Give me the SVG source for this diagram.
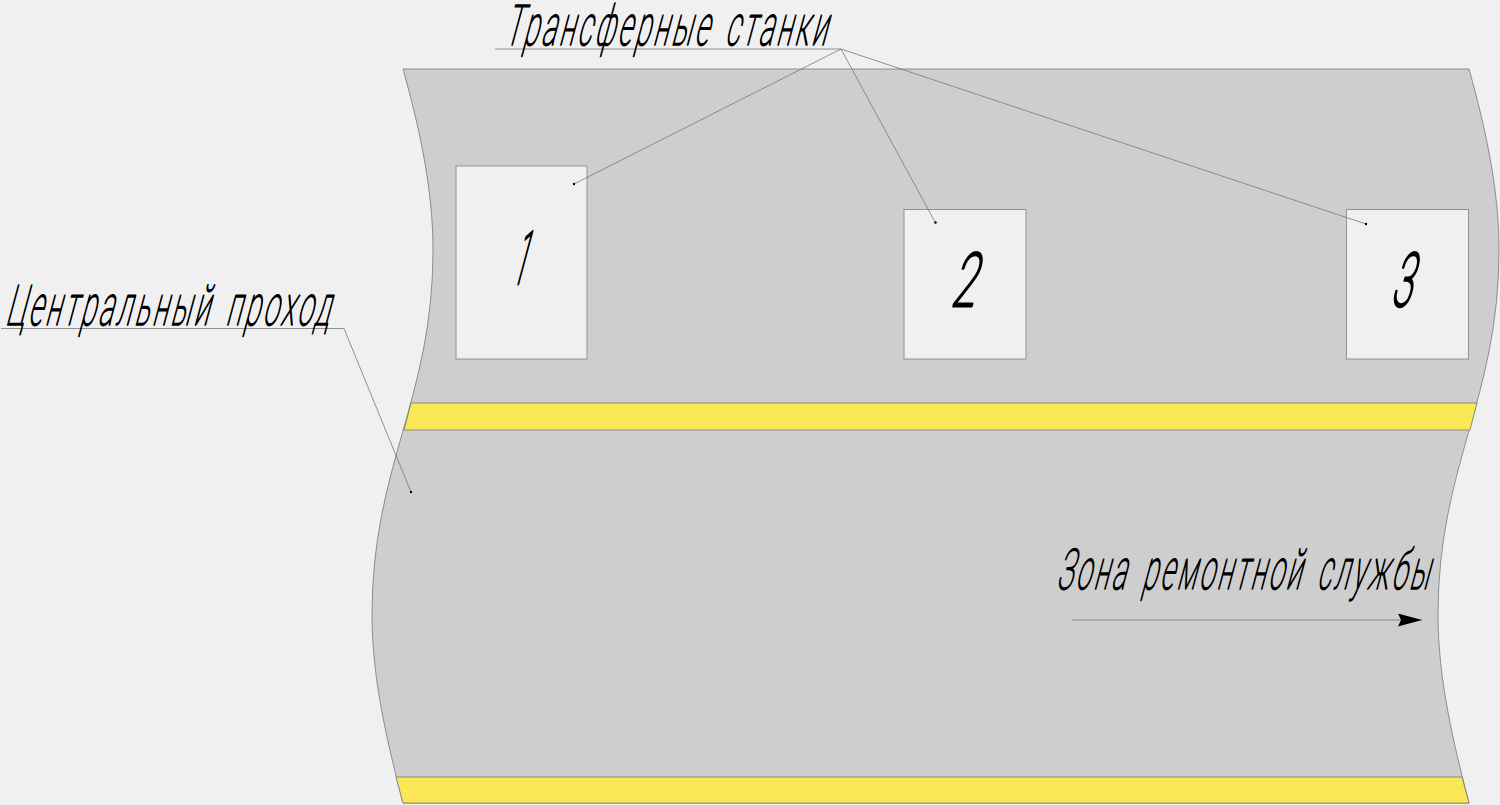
<svg xmlns="http://www.w3.org/2000/svg" width="1500" height="805" viewBox="0 0 1500 805">
<style>
.l{stroke:#777;stroke-width:.8;fill:none}
.z{fill:#cecece;stroke:#777;stroke-width:.8}
.y{fill:#f9e756;stroke:#777;stroke-width:.8}
.m{fill:#f0f0f0;stroke:#8a8a8a;stroke-width:.9}
.d{fill:#000}
.t{font-family:"Roboto","Liberation Sans",sans-serif;font-weight:100;font-size:56px;fill:#000;stroke:#000;stroke-width:1.700;letter-spacing:7px;word-spacing:8px;stroke-linejoin:round}
.n{font-size:74px;letter-spacing:0;stroke-width:3.200}
</style>
<defs><marker id="a" markerUnits="userSpaceOnUse" markerWidth="25" markerHeight="14" refX="24" refY="6.5" orient="auto"><path d="M0 0L24 6.5L0 13L3 6.5Z" fill="#000"/></marker></defs>
<rect width="1500" height="805" fill="#f0f0f0"/>
<g id="floor">
<path class="z" d="M403 69H1469C1486 130 1499 190 1499 250C1499 400 1438 465 1438 615C1438 680 1454 745 1469 803H403C388 745 372 680 372 615C372 465 433 400 433 250C433 190 420 130 403 69Z"/>
</g>
<g id="stripe-1"><path class="y" d="M411 403H1477L1470 430H404Z"/></g>
<g id="stripe-2"><path class="y" d="M396 777H1462L1469 803H403Z"/></g>
<g id="machine-1"><rect class="m" x="456" y="166" width="131" height="193"/>
<text class="t n" transform="translate(511 284) skewX(-15)" textLength="13" lengthAdjust="spacingAndGlyphs">1</text></g>
<g id="machine-2"><rect class="m" x="904" y="209.500" width="122" height="149.500"/>
<text class="t n" transform="translate(950 306) skewX(-15)" textLength="24" lengthAdjust="spacingAndGlyphs">2</text></g>
<g id="machine-3"><rect class="m" x="1346.500" y="209.500" width="122" height="149.500"/>
<text class="t n" transform="translate(1390 306) skewX(-15)" textLength="20" lengthAdjust="spacingAndGlyphs">3</text></g>
<g id="connectors">
<path class="l" d="M495 49H841L574 184M841 49L935 222M841 49L1366 224"/>
<path class="l" d="M1 328.500H344L411 492"/>
<path class="l" d="M1072 620H1422" marker-end="url(#a)"/>
<circle class="d" cx="574" cy="184" r="1.200"/><circle class="d" cx="935.500" cy="222.500" r="1.200"/><circle class="d" cx="1366" cy="224" r="1.200"/><circle class="d" cx="411" cy="492" r="1.200"/>
</g>
<g id="label-machines"><text class="t" transform="translate(504 45) skewX(-15)" textLength="325" lengthAdjust="spacingAndGlyphs">Трансферные станки</text></g>
<g id="label-aisle"><text class="t" transform="translate(5 325) skewX(-15)" textLength="327" lengthAdjust="spacingAndGlyphs">Центральный проход</text></g>
<g id="label-repair"><text class="t" transform="translate(1056 589) skewX(-15)" textLength="375" lengthAdjust="spacingAndGlyphs">Зона ремонтной службы</text></g>
</svg>
